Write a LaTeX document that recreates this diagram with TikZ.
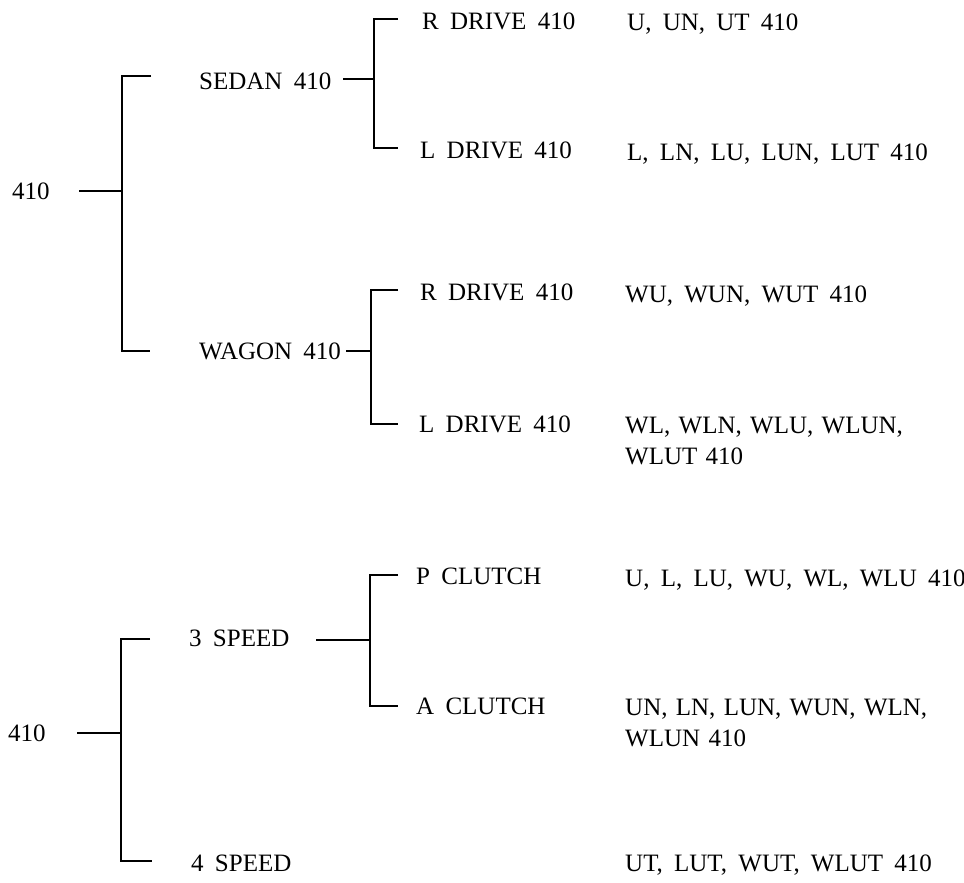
\documentclass[tikz,border=0pt]{standalone}
\usepackage{fontspec}
\setmainfont{Liberation Serif}[WordSpace=1.8]
\begin{document}
\begin{tikzpicture}[x=1pt,y=-1pt,
  lbl/.style={anchor=base west,inner sep=0pt,font=\fontsize{25}{31}\selectfont},
  lbltwo/.style={lbl,text width=330pt,align=left},
  conn/.style={line width=1.6pt,line cap=butt,line join=miter}]
\useasboundingbox (0,0) rectangle (964,883);
% ---------- top tree ----------
\node[lbl] (r1) at (12,199.3) {410};
\node[lbl] (sedan) at (199,89.3) {SEDAN 410};
\node[lbl] (wagon) at (199,359.3) {WAGON 410};
\node[lbl] (rd1) at (422,29.3) {R DRIVE 410};
\node[lbl] (ld1) at (420,158.3) {L DRIVE 410};
\node[lbl] (rd2) at (420,300.3) {R DRIVE 410};
\node[lbl] (ld2) at (419,432.3) {L DRIVE 410};
\node[lbl] (c1) at (627,30.3) {U, UN, UT 410};
\node[lbl] (c2) at (627,160.3) {L, LN, LU, LUN, LUT 410};
\node[lbl] (c3) at (625,302.3) {WU, WUN, WUT 410};
\node[lbltwo] (c4) at (625,433.3) {WL, WLN, WLU, WLUN,\\WLUT 410};
% connectors
\coordinate (a1) at (79,191);  \coordinate (j1) at (122,191);
\coordinate (j1t) at (122,76); \coordinate (t1) at (151,76);
\coordinate (j1b) at (122,351);\coordinate (t2) at (150,351);
\draw[conn] (a1) -- (j1);
\draw[conn] (t1) -- (j1t) -- (j1b) -- (t2);
\coordinate (a2) at (343,79);  \coordinate (j2) at (374,79);
\coordinate (j2t) at (374,19); \coordinate (t3) at (398,19);
\coordinate (j2b) at (374,148);\coordinate (t4) at (398,148);
\draw[conn] (a2) -- (j2);
\draw[conn] (t3) -- (j2t) -- (j2b) -- (t4);
\coordinate (a3) at (346,351);  \coordinate (j3) at (371,351);
\coordinate (j3t) at (371,290); \coordinate (t5) at (398,290);
\coordinate (j3b) at (371,424); \coordinate (t6) at (398,424);
\draw[conn] (a3) -- (j3);
\draw[conn] (t5) -- (j3t) -- (j3b) -- (t6);
% ---------- bottom tree ----------
\node[lbl] (r2) at (8,741.3) {410};
\node[lbl] (s3) at (189,646.3) {3 SPEED};
\node[lbl] (s4) at (191,871.3) {4 SPEED};
\node[lbl] (pc) at (416,584.3) {P CLUTCH};
\node[lbl] (ac) at (416,714.3) {A CLUTCH};
\node[lbl] (c5) at (625,586.3) {U, L, LU, WU, WL, WLU 410};
\node[lbltwo] (c6) at (625,715.3) {UN, LN, LUN, WUN, WLN,\\WLUN 410};
\node[lbl] (c7) at (625,871.3) {UT, LUT, WUT, WLUT 410};
\coordinate (a4) at (77,733);   \coordinate (j4) at (121,733);
\coordinate (j4t) at (121,639); \coordinate (t7) at (150,639);
\coordinate (j4b) at (121,861); \coordinate (t8) at (152,861);
\draw[conn] (a4) -- (j4);
\draw[conn] (t7) -- (j4t) -- (j4b) -- (t8);
\coordinate (a5) at (316,640);  \coordinate (j5) at (370,640);
\coordinate (j5t) at (370,575); \coordinate (t9) at (398,575);
\coordinate (j5b) at (370,706); \coordinate (t10) at (398,706);
\draw[conn] (a5) -- (j5);
\draw[conn] (t9) -- (j5t) -- (j5b) -- (t10);
\end{tikzpicture}
\end{document}
